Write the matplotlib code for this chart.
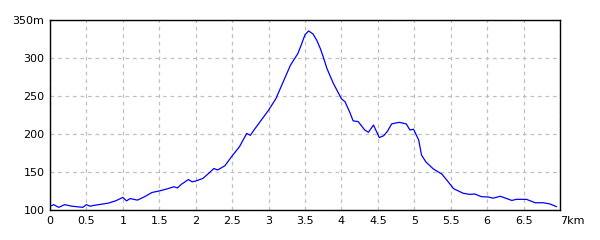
import matplotlib
matplotlib.use('Agg')
import matplotlib.pyplot as plt

# distance (km) and elevation (m)
dist = [0.0, 0.05, 0.12, 0.2, 0.3, 0.45, 0.5, 0.55, 0.6, 0.8, 0.9, 1.0, 1.05, 1.1, 1.2,
        1.3, 1.4, 1.5, 1.6, 1.7, 1.75, 1.8, 1.9, 1.95, 2.0, 2.1, 2.2, 2.25, 2.3, 2.4,
        2.5, 2.6, 2.7, 2.75, 2.8, 2.9, 3.0, 3.1, 3.2, 3.3, 3.4, 3.45, 3.5, 3.55, 3.61,
        3.66, 3.71, 3.75, 3.8, 3.84, 3.89, 4.0, 4.05, 4.12, 4.16, 4.23, 4.32, 4.37, 4.44,
        4.52, 4.58, 4.63, 4.69, 4.76, 4.8, 4.89, 4.94, 4.99, 5.06, 5.1, 5.16, 5.26, 5.38,
        5.44, 5.54, 5.67, 5.76, 5.83, 5.92, 6.02, 6.08, 6.18, 6.24, 6.34, 6.4, 6.54, 6.66,
        6.77, 6.86, 6.95]
elev = [105, 107, 103.5, 107, 105, 103.5, 107, 105, 106, 109, 112, 116.5, 112, 115, 113,
        117.5, 123, 125, 127.5, 130.5, 129, 133.5, 140, 137, 138, 141.5, 150, 154.5, 152.5, 158,
        171, 183, 200.5, 198, 205, 218, 231, 246, 268, 290, 305, 317, 330, 335, 331,
        323, 312, 301, 286, 277, 266, 246, 242, 227, 217, 216, 205, 202, 211.5,
        195, 197.5, 203, 213, 214.5, 215, 213, 205, 206, 192, 172, 163, 154, 147,
        140, 128, 122, 120.5, 121, 117.5, 117, 115.5, 118, 116, 112.5, 114, 114, 109.5,
        109.5, 108, 104.5]

xticks = [0, 0.5, 1, 1.5, 2, 2.5, 3, 3.5, 4, 4.5, 5, 5.5, 6, 6.5, 7]
xlabels = ['0', '0.5', '1', '1.5', '2', '2.5', '3', '3.5', '4', '4.5', '5', '5.5', '6', '6.5', '7km']
yticks = [100, 150, 200, 250, 300, 350]
ylabels = ['100', '150', '200', '250', '300', '350m']

fig = plt.figure(figsize=(6, 2.4), dpi=100)
ax = fig.add_axes([50/600, 30/240, 510/600, 190.5/240])
ax.plot(dist, elev, color='#0000ff', lw=0.9)
ax.set_xlim(0, 7)
ax.set_ylim(100, 350)
ax.set_xticks(xticks)
ax.set_xticklabels(xlabels)
ax.set_yticks(yticks)
ax.set_yticklabels(ylabels)
ax.tick_params(length=0, labelsize=8, pad=4)
ax.grid(True, color='#c0c0c0', ls=(0, (3, 3)), lw=0.9)
for s in ax.spines.values():
    s.set_color('black')
    s.set_linewidth(1)

# last x label hangs outside the box
lab = ax.get_xticklabels()[-1]
lab.set_horizontalalignment('left')
lab.set_x(6.97)

fig.savefig('out.png', dpi=100)
